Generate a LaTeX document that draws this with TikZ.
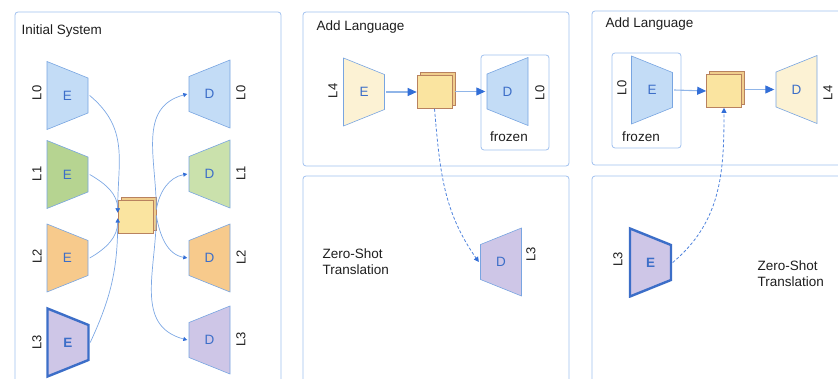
\documentclass[tikz,border=0pt]{standalone}
\usepackage{fontspec}
\setmainfont{Liberation Sans}
\usetikzlibrary{arrows.meta,positioning,calc}
\definecolor{panelblue}{RGB}{160,192,238}
\definecolor{edgeblue}{RGB}{125,168,228}
\definecolor{tipblue}{RGB}{50,110,215}
\definecolor{letterblue}{RGB}{60,110,200}
\definecolor{shapeborder}{RGB}{120,165,225}
\definecolor{fillblue}{RGB}{195,220,246}
\definecolor{fillgreen}{RGB}{182,212,145}
\definecolor{lightgreen}{RGB}{202,225,172}
\definecolor{fillorange}{RGB}{247,202,140}
\definecolor{fillpurple}{RGB}{206,198,231}
\definecolor{fillcream}{RGB}{252,242,212}
\definecolor{cubefill}{RGB}{250,228,160}
\definecolor{cubeside}{RGB}{240,205,140}
\definecolor{cubedraw}{RGB}{185,130,95}
\definecolor{darktext}{RGB}{30,30,30}

\begin{document}
\begin{tikzpicture}[
  x=1pt, y=-1pt,
  panel/.style={draw=panelblue, line width=0.8pt, rounded corners=3pt},
  frozenbox/.style={draw=panelblue, line width=0.8pt, rounded corners=3pt},
  title/.style={anchor=west, text=darktext, font=\fontsize{13.5}{16}\selectfont},
  shape line/.style={draw=shapeborder, line width=0.6pt},
  thick enc/.style={shape line/.style={draw=letterblue, line width=2.4pt}, font=\fontsize{13.5}{16}\selectfont\bfseries},
  enc/.style={rectangle, minimum width=44pt, minimum height=71pt, inner sep=0pt, text=letterblue, font=\fontsize{13.5}{16}\selectfont,
    path picture={\draw[shape line, fill=#1]
      ([shift={(1.5pt,-1.5pt)}]path picture bounding box.north west) --
      ([shift={(-1.5pt,-18pt)}]path picture bounding box.north east) --
      ([shift={(-1.5pt,18pt)}]path picture bounding box.south east) --
      ([shift={(1.5pt,1.5pt)}]path picture bounding box.south west) -- cycle;}},
  dec/.style={rectangle, minimum width=44pt, minimum height=71pt, inner sep=0pt, text=letterblue, font=\fontsize{13.5}{16}\selectfont,
    path picture={\draw[shape line, fill=#1]
      ([shift={(1.5pt,-18pt)}]path picture bounding box.north west) --
      ([shift={(-1.5pt,-1.5pt)}]path picture bounding box.north east) --
      ([shift={(-1.5pt,1.5pt)}]path picture bounding box.south east) --
      ([shift={(1.5pt,18pt)}]path picture bounding box.south west) -- cycle;}},
  lang/.style={rotate=90, text=darktext, inner sep=0pt, font=\fontsize{13}{15}\selectfont},
  cube/.style={rectangle, minimum width=35pt, minimum height=33pt, inner sep=0pt, draw=cubedraw, line width=0.6pt, fill=cubefill},
  cubeback/.style={cube, fill=cubeside},
  link/.style={draw=edgeblue, line width=0.7pt, -{Triangle[length=4pt, width=4pt, color=tipblue]}},
  bigarrow/.style={draw=edgeblue!85, line width=1.1pt, -{Triangle[length=9pt, width=8pt, color=tipblue]}},
  zeroshot/.style={draw=tipblue!85, line width=0.8pt, dash pattern=on 3pt off 2pt, -{Triangle[length=5pt, width=5pt, color=tipblue]}}
]
  \clip (0,0) rectangle (838,379);

  % Panels
  \draw[panel] (15,12) rectangle (281,400);
  \draw[panel] (303,12) rectangle (569,166);
  \draw[panel] (303,176) rectangle (569,400);
  \draw[panel] (592,11) rectangle (860,165);
  \draw[panel] (592,176) rectangle (860,400);

  \node[title] (t1) at (18,31) {Initial System};
  \node[title] (t2) at (313,27) {Add Language};
  \node[title] (t3) at (602,24) {Add Language};

  % Initial system: encoders, shared cube, decoders
  \node[enc=fillblue] (e0) at (67.5,95.5) {E};
  \node[enc=fillgreen] (e1) at (67.5,174.5) {E};
  \node[enc=fillorange] (e2) at (67.5,258) {E};
  \node[enc=fillpurple, thick enc] (e3) at (68,342.5) {E};
  \node[lang] (le0) at (37,93) {L0};
  \node[lang] (le1) at (37,174) {L1};
  \node[lang] (le2) at (37,256) {L2};
  \node[lang] (le3) at (37,342) {L3};

  \node[cubeback] (cube1back) at (138.5,213.5) {};
  \node[cube] (cube1) at (135.5,216.5) {};

  \node[dec=fillblue] (d0) at (209.5,94) {D};
  \node[dec=lightgreen] (d1) at (209.5,174) {D};
  \node[dec=fillorange] (d2) at (209.5,258) {D};
  \node[dec=fillpurple] (d3) at (209.5,340) {D};
  \node[lang] (ld0) at (241,93) {L0};
  \node[lang] (ld1) at (241,173) {L1};
  \node[lang] (ld2) at (241,257) {L2};
  \node[lang] (ld3) at (241,339) {L3};

  \draw[link] (e0.east) to[out=-40, in=90, looseness=1.1] ([yshift=4pt]cube1.west);
  \draw[link] (e1.east) to[out=-30, in=90] ([yshift=4pt]cube1.west);
  \draw[link] (e2.east) to[out=30, in=-90] ([yshift=-2pt]cube1.west);
  \draw[link] (e3.east) to[out=65, in=-90] ([yshift=-2pt]cube1.west);

  \draw[link] ([yshift=4pt]cube1back.east) to[out=90, in=195, looseness=1.1] (d0.west);
  \draw[link] ([yshift=4pt]cube1back.east) to[out=80, in=190] (d1.west);
  \draw[link] ([yshift=-2pt]cube1back.east) to[out=-80, in=170] (d2.west);
  \draw[link] ([yshift=-2pt]cube1back.east) to[out=-90, in=165, looseness=1.1] (d3.west);

  % Add language: new encoder, frozen decoder
  \draw[frozenbox] (481,55) rectangle (549,150);
  \node[enc=fillcream] (e4) at (364,92) {E};
  \node[lang] (le4) at (333,91) {L4};
  \node[cubeback] (cube2back) at (437.5,89) {};
  \node[cube] (cube2) at (434.5,92) {};
  \node[dec=fillblue] (fd0) at (507.5,91.5) {D};
  \node[lang] (lfd0) at (540,93) {L0};
  \node[text=darktext, font=\fontsize{13.5}{16}\selectfont] (fr1) at (509,137) {frozen};

  \draw[bigarrow] (e4.east) -- (cube2.west);
  \draw[bigarrow] (cube2back.east |- fd0.west) -- (fd0.west);

  % Zero-shot from the new encoder
  \node[dec=fillpurple] (zd3) at (501,262) {D};
  \node[lang] (lzd3) at (531,254) {L3};
  \node[title, align=left] (z1) at (319,262) {Zero-Shot\\Translation};
  \draw[zeroshot] (cube2.south) to[out=-85, in=125] (zd3.west);

  % Add language: frozen encoder, new decoder
  \draw[frozenbox] (612,53) rectangle (681,148);
  \node[enc=fillblue] (fe0) at (652,90) {E};
  \node[lang] (lfe0) at (622,88) {L0};
  \node[text=darktext, font=\fontsize{13.5}{16}\selectfont] (fr2) at (641,137) {frozen};
  \node[cubeback] (cube3back) at (727,88) {};
  \node[cube] (cube3) at (724,91) {};
  \node[dec=fillcream] (d4) at (796.5,89.5) {D};
  \node[lang] (ld4) at (828,93) {L4};

  \draw[bigarrow] (fe0.east) -- (cube3.west);
  \draw[bigarrow] (cube3back.east |- d4.west) -- (d4.west);

  % Zero-shot into the new decoder
  \node[enc=fillpurple, thick enc] (ze3) at (650.5,262.5) {E};
  \node[lang] (lze3) at (618,259) {L3};
  \node[title, align=left] (z2) at (754,274) {Zero-Shot\\Translation};
  \draw[zeroshot] (ze3.east) to[out=40, in=-90] (cube3.south);
\end{tikzpicture}
\end{document}
